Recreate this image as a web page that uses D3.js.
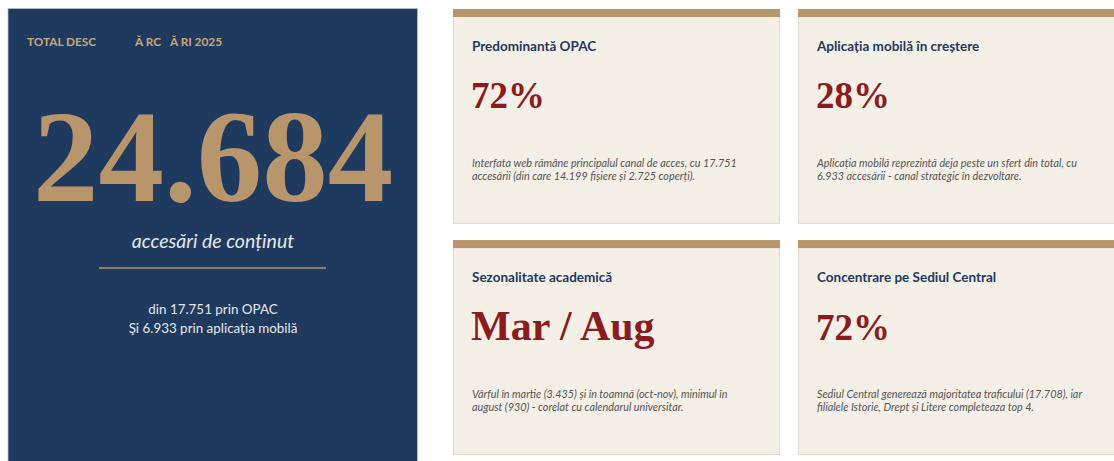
<!DOCTYPE html>
<html>
<head>
<meta charset="utf-8">
<script src="https://cdn.jsdelivr.net/npm/d3@7"></script>
<style>
  html, body { margin: 0; padding: 0; background: #fff; }
  svg { display: block; }
</style>
</head>
<body>
<div id="chart"></div>
<script>
// headline numbers
const headerParts = [
  { text: "TOTAL DESC", x: 27 },
  { text: "Ă RC", x: 135 },
  { text: "Ă RI 2025", x: 170 }
];
const totalValue = "24.684";
const totalLabel = "accesări de conținut";
const totalBreakdown = ["din 17.751 prin OPAC", "Şi 6.933 prin aplicaţia mobilă"];

// cards (row-major)
const cardTitles = ["Predominantă OPAC", "Aplicația mobilă în creștere", "Sezonalitate academică", "Concentrare pe Sediul Central"];
const cardValues = ["72%", "28%", "Mar / Aug", "72%"];
const cardNotes = [
  ["Interfata web rămâne principalul canal de acces, cu 17.751", "accesării (din care 14.199 fișiere și 2.725 coperți)."],
  ["Aplicația mobilă reprezintă deja peste un sfert din total, cu", "6.933 accesării - canal strategic în dezvoltare."],
  ["Vârful în martie (3.435) și în toamnă (oct-nov), minimul în", "august (930) - corelat cu calendarul universitar."],
  ["Sediul Central generează majoritatea traficului (17.708), iar", "filialele Istorie, Drept și Litere completeaza top 4."]
];

const W = 1114, H = 461;
const navy = "#1f3a5f", gold = "#b8956a", cream = "#f4efe7", red = "#8e1b1b";
const sans = "Lato, 'Open Sans', sans-serif";
const serif = "'Liberation Serif', 'DejaVu Serif', serif";

const svg = d3.select("#chart").append("svg")
  .attr("width", W).attr("height", H);

// left panel
const panel = svg.append("g").attr("class", "panel");
panel.append("rect")
  .attr("x", 8).attr("y", 8.5).attr("width", 409.5).attr("height", 470)
  .attr("fill", navy).attr("stroke", "#b9c0ca").attr("stroke-width", 0.8);

panel.selectAll("text.head")
  .data(headerParts)
  .join("text")
  .attr("class", "head")
  .attr("x", d => d.x).attr("y", 46)
  .attr("font-family", sans).attr("font-weight", 700).attr("font-size", 11.8)
  .attr("fill", "#c9a878")
  .text(d => d.text);

const cx = 213;
panel.append("text")
  .attr("x", cx).attr("y", 201)
  .attr("text-anchor", "middle")
  .attr("font-family", serif).attr("font-weight", 700).attr("font-size", 131)
  .attr("fill", gold)
  .text(totalValue);

panel.append("text")
  .attr("x", cx).attr("y", 248)
  .attr("text-anchor", "middle")
  .attr("font-family", sans).attr("font-style", "italic").attr("font-size", 19.5)
  .attr("fill", "#e6e8ec")
  .text(totalLabel);

panel.append("line")
  .attr("x1", 99).attr("x2", 326).attr("y1", 268).attr("y2", 268)
  .attr("stroke", gold).attr("stroke-width", 1.5);

panel.selectAll("text.sub")
  .data(totalBreakdown)
  .join("text")
  .attr("class", "sub")
  .attr("x", cx).attr("y", (d, i) => 314 + i * 19)
  .attr("text-anchor", "middle")
  .attr("font-family", sans).attr("font-size", 13.4)
  .attr("fill", "#e6e8ec")
  .text(d => d);

// cards grid
const col = d3.scaleBand().domain([0, 1]).range([453, 1125]).paddingInner(0.052);
const row = d3.scaleBand().domain([0, 1]).range([9, 455]).paddingInner(0.07);

const cards = cardTitles.map((t, i) => ({ title: t, value: cardValues[i], note: cardNotes[i], c: i % 2, r: Math.floor(i / 2) }));

const card = svg.selectAll("g.card")
  .data(cards)
  .join("g")
  .attr("class", "card")
  .attr("transform", d => `translate(${col(d.c)},${row(d.r)})`);

card.append("rect")
  .attr("x", 0.5).attr("y", 0.5)
  .attr("width", col.bandwidth() - 1).attr("height", row.bandwidth() - 1)
  .attr("fill", cream).attr("stroke", "#e2d9cc").attr("stroke-width", 1);

card.append("rect")
  .attr("width", col.bandwidth()).attr("height", 8)
  .attr("fill", gold);

card.append("text")
  .attr("x", 19).attr("y", 42)
  .attr("font-family", sans).attr("font-weight", 700).attr("font-size", 13.5)
  .attr("fill", navy)
  .text(d => d.title);

card.append("text")
  .attr("x", 18).attr("y", d => d.r === 0 ? 99 : 100)
  .attr("font-family", serif).attr("font-weight", 700)
  .attr("font-size", d => d.value.length > 4 ? 42 : 37)
  .attr("fill", red)
  .text(d => d.value);

card.selectAll("text.note")
  .data(d => d.note)
  .join("text")
  .attr("class", "note")
  .attr("x", 19).attr("y", (d, i) => 158 + i * 13)
  .attr("font-family", sans).attr("font-style", "italic").attr("font-size", 10.8)
  .attr("fill", "#555")
  .text(d => d);
</script>
</body>
</html>
